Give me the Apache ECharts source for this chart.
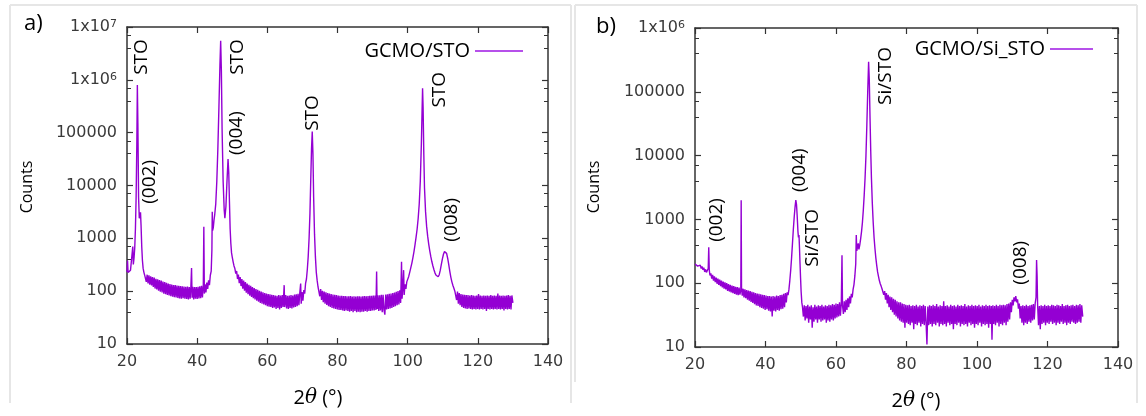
<!DOCTYPE html>
<html>
<head>
<meta charset="utf-8">
<script src="https://cdn.jsdelivr.net/npm/echarts@6/dist/echarts.min.js"></script>
<style>html,body{margin:0;padding:0;background:#fff}#c{width:1146px;height:416px}</style>
</head>
<body>
<div id="c"></div>
<script>
// ---- Data (2θ in degrees, counts) ----
const seriesNameA = 'GCMO/STO';
const seriesNameB = 'GCMO/Si_STO';
const xTicks = [20, 40, 60, 80, 100, 120, 140];
const yTickLabelsA = ['10', '100', '1000', '10000', '100000', '1x10^6', '1x10^7'];
const yTickLabelsB = ['10', '100', '1000', '10000', '100000', '1x10^6'];

const gcmoSto = [
 [20.0,230],[20.15,380],[20.3,225],[20.5,245],[20.75,225],[21.0,250],[21.25,240],[21.5,270],[21.65,700],[21.8,320],
 [22.0,420],[22.2,650],[22.4,1500],[22.6,6000],[22.8,60000],[22.95,800000],[23.1,150000],[23.3,6000],[23.5,2400],[23.7,2300],
 [23.85,3100],[24.0,1800],[24.2,700],[24.4,380],[24.6,270],[24.8,230],[25.0,205],
 [25.25,215],[25.5,150],[25.75,205],[26.0,140],[26.25,200],[26.5,132],[26.75,192],[27.0,128],[27.25,185],[27.5,120],
 [27.75,180],[28.0,112],[28.25,172],[28.5,108],[28.75,168],[29.0,102],[29.25,162],[29.5,98],[29.75,158],[30.0,95],
 [30.25,152],[30.5,90],[30.75,148],[31.0,88],[31.25,144],[31.5,85],[31.75,140],[32.0,83],[32.25,137],[32.5,80],
 [32.75,134],[33.0,79],[33.25,131],[33.5,77],[33.75,130],[34.0,76],[34.25,128],[34.5,74],[34.75,126],[35.0,73],
 [35.25,125],[35.5,72],[35.75,124],[36.0,74],[36.25,122],[36.5,72],[36.75,121],[37.0,71],[37.25,122],[37.5,70],
 [37.75,120],[38.0,72],[38.2,118],[38.4,275],[38.55,75],[38.75,121],[39.0,70],[39.25,119],[39.5,72],[39.75,120],
 [40.0,71],[40.25,121],[40.5,73],[40.75,123],[41.0,74],[41.25,126],[41.5,76],[41.75,130],[41.9,1660],[42.05,90],
 [42.25,135],[42.5,95],[42.75,145],[43.0,110],[43.25,160],[43.5,130],[43.75,200],[44.0,240],[44.2,600],[44.3,3200],
 [44.4,1400],[44.6,1600],[44.8,2200],[45.0,2800],[45.3,4500],[45.6,12000],[45.9,50000],[46.2,300000],[46.5,2000000],[46.7,5500000],
 [46.9,1500000],[47.1,120000],[47.4,12000],[47.7,3500],[47.9,2400],[48.2,4000],[48.5,12000],[48.8,31600],[49.0,18000],[49.2,5000],
 [49.4,1500],[49.6,800],[49.8,530],[50.0,440],[50.25,360],[50.5,300],[50.75,268],[51.0,215],[51.25,240],[51.5,170],
 [51.75,205],[52.0,142],[52.25,185],[52.5,125],[52.75,170],[53.0,112],[53.25,158],[53.5,102],[53.75,148],[54.0,94],
 [54.25,140],[54.5,88],[54.75,132],[55.0,82],[55.25,126],[55.5,78],[55.75,120],[56.0,74],[56.25,114],[56.5,70],
 [56.75,110],[57.0,66],[57.25,106],[57.5,63],[57.75,102],[58.0,60],[58.25,98],[58.5,58],[58.75,95],[59.0,56],
 [59.25,92],[59.5,54],[59.75,90],[60.0,52],[60.25,88],[60.5,51],[60.75,87],[61.0,50],[61.25,85],[61.5,48],
 [61.75,84],[62.0,49],[62.25,83],[62.5,46],[62.75,82],[63.0,48],[63.25,84],[63.5,45],[63.75,83],[64.0,48],
 [64.25,84],[64.5,50],[64.8,130],[64.95,50],[65.25,84],[65.5,47],[65.75,82],[66.0,46],[66.25,83],[66.5,48],
 [66.75,84],[67.0,47],[67.25,83],[67.5,49],[67.75,86],[68.0,50],[68.25,87],[68.5,52],[68.75,89],[69.0,54],
 [69.25,92],[69.5,140],[69.65,58],[69.9,96],[70.15,66],[70.4,105],[70.65,90],[70.9,140],[71.15,170],[71.4,260],
 [71.65,450],[71.9,1000],[72.15,3000],[72.4,15000],[72.6,50000],[72.8,105000],[73.0,40000],[73.2,6000],[73.45,1200],[73.7,450],
 [73.95,230],[74.2,160],[74.45,120],[74.7,125],[74.95,80],[75.2,110],[75.45,68],[75.7,102],[75.95,62],[76.2,98],
 [76.45,58],[76.7,95],[76.95,55],[77.2,92],[77.45,52],[77.7,90],[77.95,50],[78.2,88],[78.45,48],[78.7,86],
 [78.95,47],[79.2,85],[79.45,46],[79.7,84],[79.95,45],[80.2,83],[80.45,44],[80.7,82],[80.95,44],[81.2,82],
 [81.45,43],[81.7,81],[81.95,42],[82.2,81],[82.45,43],[82.7,80],[82.95,42],[83.2,80],[83.45,41],[83.7,81],
 [83.95,42],[84.2,79],[84.45,40],[84.7,80],[84.95,42],[85.2,79],[85.45,40],[85.7,80],[85.95,41],[86.2,80],
 [86.45,40],[86.7,79],[86.95,41],[87.2,80],[87.45,41],[87.7,81],[87.95,42],[88.2,80],[88.45,41],[88.7,81],
 [88.95,42],[89.2,82],[89.45,42],[89.7,82],[89.95,43],[90.2,83],[90.45,43],[90.7,83],[90.95,44],[91.15,235],
 [91.3,46],[91.5,84],[91.75,42],[92.0,84],[92.25,43],[92.5,85],[92.75,40],[93.0,85],[93.25,44],[93.5,36],
 [93.75,86],[94.0,45],[94.25,87],[94.5,46],[94.75,89],[95.0,47],[95.25,90],[95.5,48],[95.75,92],[96.0,50],
 [96.25,94],[96.5,52],[96.75,97],[97.0,54],[97.25,100],[97.5,56],[97.75,104],[98.0,60],[98.25,360],[98.4,72],
 [98.6,110],[98.85,250],[99.0,85],[99.25,135],[99.5,110],[99.75,150],[100.0,150],[100.3,190],[100.6,230],[100.9,280],
 [101.2,340],[101.5,430],[101.8,560],[102.1,760],[102.4,1050],[102.7,1500],[103.0,2400],[103.3,4500],[103.6,12000],[103.9,60000],
 [104.1,250000],[104.25,690000],[104.4,300000],[104.6,40000],[104.8,9000],[105.1,3200],[105.4,1700],[105.7,1100],[106.0,780],[106.3,580],
 [106.6,450],[106.9,360],[107.2,300],[107.5,255],[107.8,220],[108.1,200],[108.4,190],[108.7,187],[109.0,205],[109.3,250],
 [109.6,320],[109.9,410],[110.2,500],[110.5,560],[110.8,575],[111.1,520],[111.4,420],[111.7,320],[112.0,240],[112.3,185],
 [112.6,150],[112.9,128],[113.2,112],[113.45,100],[113.7,105],[113.95,68],[114.2,98],[114.45,58],[114.7,92],[114.95,54],
 [115.2,88],[115.45,50],[115.7,86],[115.95,48],[116.2,85],[116.45,47],[116.7,84],[116.95,46],[117.2,84],[117.45,47],
 [117.7,83],[117.95,46],[118.2,84],[118.45,45],[118.7,83],[118.95,46],[119.2,82],[119.45,45],[119.7,83],[119.95,46],
 [120.2,88],[120.45,45],[120.7,83],[120.95,46],[121.2,82],[121.45,45],[121.7,83],[121.95,46],[122.2,82],[122.45,42],
 [122.7,83],[122.95,46],[123.2,82],[123.45,45],[123.7,84],[123.95,46],[124.2,82],[124.45,45],[124.7,83],[124.95,46],
 [125.2,82],[125.45,45],[125.7,90],[125.95,46],[126.2,83],[126.45,45],[126.7,82],[126.95,46],[127.2,83],[127.45,43],
 [127.7,82],[127.95,46],[128.2,83],[128.45,45],[128.7,84],[128.95,46],[129.2,82],[129.45,45],[129.7,83],[130.0,60]
];

const gcmoSiSto = [
 [20.0,200],[20.25,188],[20.5,210],[20.75,185],[21.0,198],[21.25,178],[21.5,192],[21.75,170],[22.0,183],[22.25,162],
 [22.5,175],[22.75,150],[23.0,165],[23.25,148],[23.5,158],[23.75,170],[23.9,365],[24.05,160],[24.25,132],[24.5,142],
 [24.75,118],[25.0,135],[25.25,110],[25.5,128],[25.75,104],[26.0,122],[26.25,98],[26.5,118],[26.75,94],[27.0,114],
 [27.25,90],[27.5,110],[27.75,86],[28.0,106],[28.25,82],[28.5,103],[28.75,80],[29.0,100],[29.25,76],[29.5,97],
 [29.75,74],[30.0,94],[30.25,72],[30.5,92],[30.75,70],[31.0,90],[31.25,68],[31.5,88],[31.75,66],[32.0,87],
 [32.25,65],[32.5,85],[32.75,66],[33.0,80],[33.1,2000],[33.2,84],[33.4,64],[33.65,82],[33.9,60],[34.15,80],
 [34.4,58],[34.65,78],[34.9,55],[35.15,77],[35.4,53],[35.65,75],[35.9,51],[36.15,73],[36.4,49],[36.65,72],
 [36.9,47],[37.15,70],[37.4,45],[37.65,69],[37.9,44],[38.15,68],[38.4,42],[38.65,67],[38.9,41],[39.15,66],
 [39.4,40],[39.65,65],[39.9,38],[40.15,64],[40.4,39],[40.65,63],[40.9,37],[41.15,63],[41.4,36],[41.65,62],
 [41.9,30],[42.15,63],[42.4,37],[42.65,62],[42.9,36],[43.15,64],[43.4,38],[43.65,63],[43.9,37],[44.15,65],
 [44.4,39],[44.65,66],[44.9,40],[45.15,68],[45.4,42],[45.65,70],[45.9,50],[46.15,72],[46.4,65],[46.65,80],
 [46.9,110],[47.15,160],[47.4,250],[47.65,420],[47.9,700],[48.15,1100],[48.4,1600],[48.6,2000],[48.8,1700],[49.0,1100],
 [49.2,650],[49.35,520],[49.5,570],[49.65,350],[49.8,200],[49.95,120],[50.1,75],[50.3,50],[50.5,42],[50.75,30],
 [51.0,45],[51.25,26],[51.5,44],[51.75,28],[52.0,46],[52.25,24],[52.5,43],[52.75,27],[53.0,45],[53.25,20],
 [53.5,42],[53.75,25],[54.0,46],[54.25,27],[54.5,43],[54.75,24],[55.0,45],[55.25,27],[55.5,44],[55.75,25],
 [56.0,46],[56.25,26],[56.5,43],[56.75,27],[57.0,45],[57.25,24],[57.5,44],[57.75,26],[58.0,46],[58.25,25],
 [58.5,45],[58.75,27],[59.0,47],[59.25,26],[59.5,46],[59.75,28],[60.0,48],[60.25,29],[60.5,47],[60.75,30],
 [61.0,50],[61.25,31],[61.5,48],[61.7,275],[61.85,45],[62.1,33],[62.35,52],[62.6,35],[62.85,55],[63.1,38],
 [63.35,58],[63.6,42],[63.85,62],[64.1,48],[64.35,68],[64.6,60],[64.85,80],[65.1,95],[65.35,130],[65.6,200],
 [65.75,570],[65.9,320],[66.1,300],[66.3,420],[66.5,340],[66.75,400],[67.0,500],[67.25,650],[67.5,900],[67.75,1400],
 [68.0,2400],[68.25,4500],[68.5,10000],[68.75,30000],[69.0,100000],[69.25,295000],[69.45,150000],[69.65,40000],[69.85,12000],[70.05,4500],
 [70.3,1800],[70.55,900],[70.8,520],[71.05,350],[71.3,250],[71.55,190],[71.8,150],[72.05,128],[72.3,110],[72.55,98],
 [72.8,90],[73.05,82],[73.3,85],[73.55,66],[73.8,75],[74.05,55],[74.3,70],[74.55,48],[74.8,66],[75.05,42],
 [75.3,62],[75.55,38],[75.8,60],[76.05,35],[76.3,57],[76.55,32],[76.8,55],[77.05,30],[77.3,52],[77.55,28],
 [77.8,50],[78.05,26],[78.3,50],[78.55,25],[78.8,48],[79.05,24],[79.3,47],[79.55,20],[79.8,46],[80.05,24],
 [80.3,45],[80.55,23],[80.8,46],[81.05,22],[81.3,44],[81.55,24],[81.8,45],[82.05,19],[82.3,44],[82.55,23],
 [82.8,46],[83.05,22],[83.3,43],[83.55,24],[83.8,45],[84.05,21],[84.3,44],[84.55,23],[84.8,46],[85.05,22],
 [85.3,44],[85.55,24],[85.8,11],[86.05,43],[86.3,22],[86.55,45],[86.8,23],[87.05,44],[87.3,21],[87.55,46],
 [87.8,23],[88.05,44],[88.3,22],[88.55,47],[88.8,24],[89.05,43],[89.3,21],[89.55,45],[89.8,23],[90.05,44],
 [90.3,22],[90.55,52],[90.8,23],[91.05,44],[91.3,21],[91.55,45],[91.8,24],[92.05,43],[92.3,22],[92.55,46],
 [92.8,23],[93.05,44],[93.3,19],[93.55,45],[93.8,23],[94.05,43],[94.3,22],[94.55,46],[94.8,24],[95.05,44],
 [95.3,21],[95.55,45],[95.8,23],[96.05,44],[96.3,22],[96.55,47],[96.8,23],[97.05,43],[97.3,21],[97.55,45],
 [97.8,24],[98.05,44],[98.3,22],[98.55,46],[98.8,23],[99.05,44],[99.3,20],[99.55,45],[99.8,23],[100.05,44],
 [100.3,22],[100.55,46],[100.8,24],[101.05,43],[101.3,21],[101.55,45],[101.8,23],[102.05,44],[102.3,22],[102.55,46],
 [102.8,23],[103.05,44],[103.3,20],[103.55,45],[103.8,23],[104.05,44],[104.25,13],[104.5,45],[104.75,23],[105.0,44],
 [105.25,22],[105.5,46],[105.75,24],[106.0,44],[106.25,21],[106.5,46],[106.75,23],[107.0,45],[107.25,22],[107.5,46],
 [107.75,24],[108.0,45],[108.25,22],[108.5,47],[108.75,25],[109.0,48],[109.25,27],[109.5,50],[109.75,35],[110.0,55],
 [110.25,45],[110.5,60],[110.75,52],[111.0,63],[111.25,50],[111.5,56],[111.75,40],[112.0,48],[112.25,28],[112.5,44],
 [112.75,24],[113.0,45],[113.25,22],[113.5,44],[113.75,24],[114.0,46],[114.25,23],[114.5,44],[114.75,25],[115.0,45],
 [115.25,24],[115.5,46],[115.75,26],[116.0,47],[116.25,27],[116.5,48],[116.75,60],[116.9,230],[117.05,130],[117.2,45],
 [117.45,22],[117.7,44],[117.95,19],[118.2,45],[118.45,23],[118.7,44],[118.95,24],[119.2,46],[119.45,22],[119.7,44],
 [119.95,24],[120.2,45],[120.45,23],[120.7,44],[120.95,25],[121.2,46],[121.45,23],[121.7,45],[121.95,24],[122.2,44],
 [122.45,22],[122.7,46],[122.95,24],[123.2,45],[123.45,23],[123.7,44],[123.95,25],[124.2,47],[124.45,23],[124.7,44],
 [124.95,24],[125.2,45],[125.45,22],[125.7,46],[125.95,24],[126.2,44],[126.45,23],[126.7,45],[126.95,25],[127.2,46],
 [127.45,24],[127.7,44],[127.95,23],[128.2,46],[128.45,24],[128.7,45],[128.95,25],[129.2,47],[129.45,24],[129.7,45],
 [130.0,30]
];

// Peak annotations: [2θ anchor, counts anchor, text]
const notesA = [[24.3,2.7e6,'STO'],[26.3,11700,'(002)'],[51.6,2.7e6,'STO'],[51.1,98000,'(004)'],[73.0,236000,'STO'],[109.2,650000,'STO'],[112.6,2240,'(008)']];
const notesB = [[26.2,980,'(002)'],[49.8,5900,'(004)'],[53.5,512,'Si/STO'],[74.2,177000,'Si/STO'],[112.5,209,'(008)']];

// ---- Chart ----
const LINE = '#9400d3';
const AX = '#333333';
const LBL = '#3a3a3a';
const TXT_FONT = '"Open Sans", sans-serif';
const TICK_FONT = '"DejaVu Sans", sans-serif';

function yFormatter(labels) {
  return function (v) {
    const e = Math.round(Math.log10(v));
    const s = labels[e - 1];
    if (s === undefined) return '';
    const parts = s.split('^');
    return parts.length === 2 ? parts[0] + '{sup|' + parts[1] + '}' : s;
  };
}

function xAxisPair(grid) {
  const base = {
    gridIndex: grid, type: 'value', min: xTicks[0], max: xTicks[xTicks.length - 1], interval: 20,
    axisLine: { show: true, lineStyle: { color: AX, width: 1.5 } },
    axisTick: { show: true, inside: true, length: 6, lineStyle: { color: AX, width: 1.2 } },
    splitLine: { show: false }
  };
  return [
    Object.assign({}, base, { position: 'bottom',
      axisLabel: { show: true, margin: 10, fontSize: 16, color: LBL, fontFamily: TICK_FONT } }),
    Object.assign({}, base, { position: 'top', axisLabel: { show: false } })
  ];
}

function yAxisPair(grid, max, labels) {
  const base = {
    gridIndex: grid, type: 'log', logBase: 10, min: 10, max: max,
    axisLine: { show: true, lineStyle: { color: AX, width: 1.5 } },
    axisTick: { show: true, inside: true, length: 6, lineStyle: { color: AX, width: 1.2 } },
    minorTick: { show: true, splitNumber: 3, length: 4, lineStyle: { color: AX, width: 1 } },
    splitLine: { show: false }, minorSplitLine: { show: false }
  };
  return [
    Object.assign({}, base, { position: 'left',
      axisLabel: { show: true, margin: 10, fontSize: 16, color: LBL, fontFamily: TICK_FONT,
        formatter: yFormatter(labels),
        rich: { sup: { fontSize: 11, color: LBL, fontFamily: TICK_FONT, verticalAlign: 'top', lineHeight: 10 } } } }),
    Object.assign({}, base, { position: 'right', axisLabel: { show: false } })
  ];
}

const baseGraphics = [
  { type: 'line', shape: { x1: 10, y1: 5, x2: 571, y2: 5 }, style: { stroke: '#e6e6e6', lineWidth: 2 }, silent: true },
  { type: 'line', shape: { x1: 10, y1: 5, x2: 10, y2: 403 }, style: { stroke: '#e6e6e6', lineWidth: 2 }, silent: true },
  { type: 'line', shape: { x1: 571, y1: 5, x2: 571, y2: 403 }, style: { stroke: '#e6e6e6', lineWidth: 2 }, silent: true },
  { type: 'line', shape: { x1: 575, y1: 5, x2: 1137, y2: 5 }, style: { stroke: '#e6e6e6', lineWidth: 2 }, silent: true },
  { type: 'line', shape: { x1: 575, y1: 5, x2: 575, y2: 382 }, style: { stroke: '#e6e6e6', lineWidth: 2 }, silent: true },
  { type: 'line', shape: { x1: 1137, y1: 5, x2: 1137, y2: 403 }, style: { stroke: '#e6e6e6', lineWidth: 2 }, silent: true },
  { type: 'text', left: 24, top: 13, style: { text: 'a)', fontSize: 22, fontFamily: TXT_FONT, fill: '#000' } },
  { type: 'text', left: 596, top: 16, style: { text: 'b)', fontSize: 22, fontFamily: TXT_FONT, fill: '#000' } },
  { type: 'text', x: 27, y: 187, rotation: Math.PI / 2,
    style: { text: 'Counts', fontSize: 16, fontFamily: TXT_FONT, fill: '#000', align: 'center', verticalAlign: 'middle' } },
  { type: 'text', x: 594, y: 187, rotation: Math.PI / 2,
    style: { text: 'Counts', fontSize: 16, fontFamily: TXT_FONT, fill: '#000', align: 'center', verticalAlign: 'middle' } },
  { type: 'text', x: 318, y: 398,
    style: { text: '{n|2}{i|θ}{n| (°)}', align: 'center', verticalAlign: 'middle',
      rich: { n: { fontSize: 20, fontFamily: TXT_FONT, fill: '#000' },
              i: { fontSize: 20, fontFamily: '"DejaVu Serif", serif', fontStyle: 'italic', fill: '#000' } } } },
  { type: 'text', x: 916, y: 401,
    style: { text: '{n|2}{i|θ}{n| (°)}', align: 'center', verticalAlign: 'middle',
      rich: { n: { fontSize: 20, fontFamily: TXT_FONT, fill: '#000' },
              i: { fontSize: 20, fontFamily: '"DejaVu Serif", serif', fontStyle: 'italic', fill: '#000' } } } }
];

const chart = echarts.init(document.getElementById('c'), null, { renderer: 'canvas' });
chart.setOption({
  animation: false,
  backgroundColor: '#ffffff',
  grid: [
    { left: 127, top: 27, width: 421, height: 317 },
    { left: 695, top: 28, width: 423, height: 319 }
  ],
  xAxis: [...xAxisPair(0), ...xAxisPair(1)],
  yAxis: [...yAxisPair(0, 1e7, yTickLabelsA), ...yAxisPair(1, 1e6, yTickLabelsB)],
  legend: [
    { data: [seriesNameA], right: 618, top: 36, align: 'right', icon: 'rect', itemWidth: 48, itemHeight: 2,
      itemGap: 0, textStyle: { fontSize: 20, fontFamily: TXT_FONT, color: '#000' } },
    { data: [seriesNameB], right: 48, top: 34, align: 'right', icon: 'rect', itemWidth: 43, itemHeight: 2,
      itemGap: 0, textStyle: { fontSize: 20, fontFamily: TXT_FONT, color: '#000' } }
  ],
  series: [
    { name: seriesNameA, type: 'line', xAxisIndex: 0, yAxisIndex: 0, data: gcmoSto, showSymbol: false,
      lineStyle: { color: LINE, width: 1.4 }, itemStyle: { color: '#b650ea' }, z: 3 },
    { name: seriesNameB, type: 'line', xAxisIndex: 2, yAxisIndex: 2, data: gcmoSiSto, showSymbol: false,
      lineStyle: { color: LINE, width: 1.4 }, itemStyle: { color: '#b650ea' }, z: 3 }
  ],
  graphic: baseGraphics
});

// Peak annotations positioned through the axes' own scales
function noteGraphics(notes, xi, yi) {
  return notes.map(n => {
    const p = chart.convertToPixel({ xAxisIndex: xi, yAxisIndex: yi }, [n[0], n[1]]);
    return { type: 'text', x: p[0], y: p[1], rotation: Math.PI / 2, z: 10, silent: true,
      style: { text: n[2], fontSize: 19, fontFamily: TXT_FONT, fill: '#000', align: 'center', verticalAlign: 'middle' } };
  });
}
chart.setOption({ graphic: baseGraphics.concat(noteGraphics(notesA, 0, 0), noteGraphics(notesB, 2, 2)) });
</script>
</body>
</html>
